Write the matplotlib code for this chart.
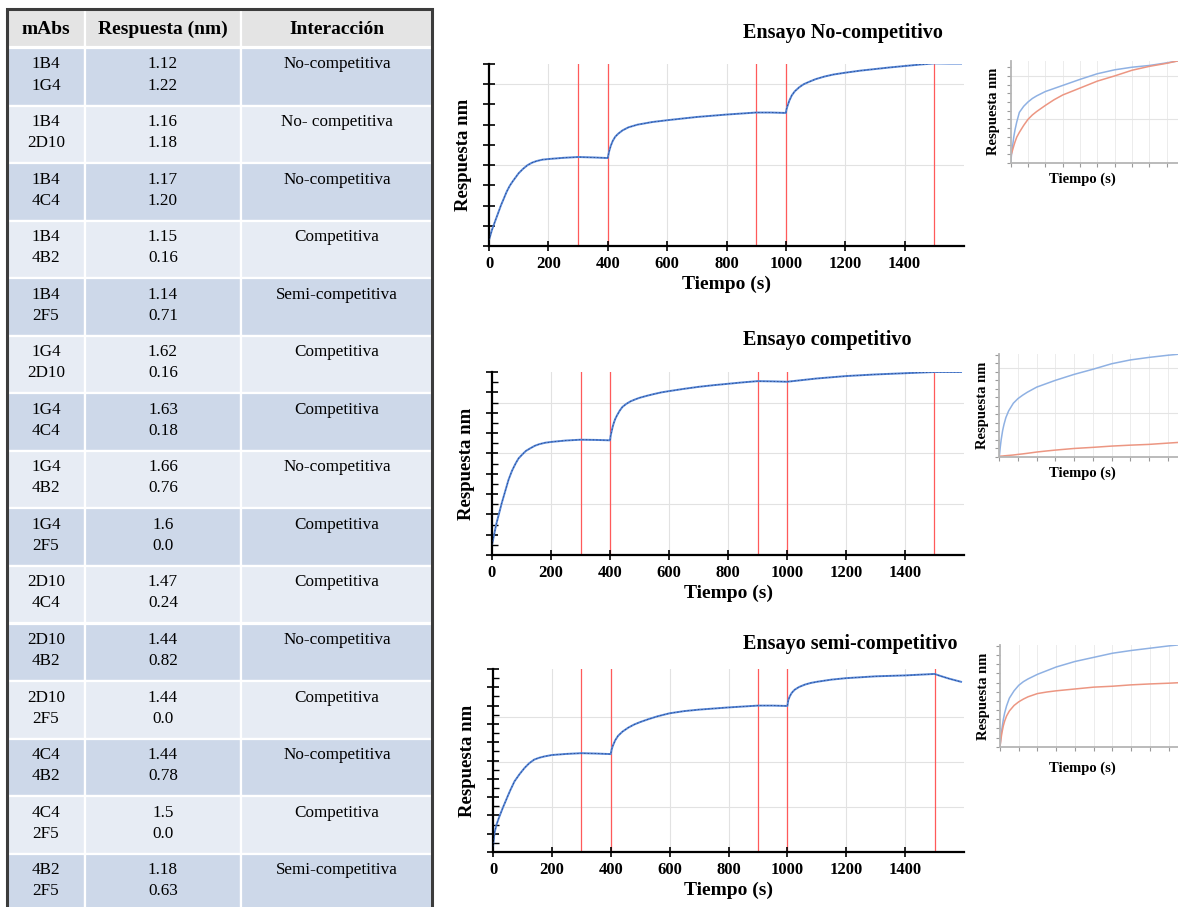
import matplotlib
matplotlib.use('Agg')
import matplotlib.pyplot as plt
from matplotlib.patches import Rectangle

plt.rcParams['font.family'] = ['Liberation Serif', 'DejaVu Serif']

# tabla de pares de anticuerpos
mabs_1 = ['1B4', '1B4', '1B4', '1B4', '1B4', '1G4', '1G4', '1G4', '1G4',
          '2D10', '2D10', '2D10', '4C4', '4C4', '4B2']
mabs_2 = ['1G4', '2D10', '4C4', '4B2', '2F5', '2D10', '4C4', '4B2', '2F5',
          '4C4', '4B2', '2F5', '4B2', '2F5', '2F5']
resp_1 = ['1.12', '1.16', '1.17', '1.15', '1.14', '1.62', '1.63', '1.66', '1.6',
          '1.47', '1.44', '1.44', '1.44', '1.5', '1.18']
resp_2 = ['1.22', '1.18', '1.20', '0.16', '0.71', '0.16', '0.18', '0.76', '0.0',
          '0.24', '0.82', '0.0', '0.78', '0.0', '0.63']
interaccion = ['No-competitiva', 'No- competitiva', 'No-competitiva', 'Competitiva',
               'Semi-competitiva', 'Competitiva', 'Competitiva', 'No-competitiva',
               'Competitiva', 'Competitiva', 'No-competitiva', 'Competitiva',
               'No-competitiva', 'Competitiva', 'Semi-competitiva']
encabezado = ['mAbs', 'Respuesta (nm)', 'Interacción']

# sensogramas (tiempo en s, respuesta en divisiones del eje)
t_nc = [0, 5, 10, 20, 30, 40, 50, 60, 70, 80, 90, 100, 115, 130, 145, 160, 180, 200,
        250, 300, 350, 400,
        402, 405, 410, 417, 425, 435, 450, 470, 500, 550, 600, 650, 700, 800, 900, 950, 1000,
        1002, 1006, 1012, 1020, 1030, 1045, 1060, 1080, 1100, 1130, 1160, 1200, 1250,
        1300, 1350, 1400, 1450, 1500, 1550, 1590]
y_nc = [0.3, 0.55, 0.8, 1.2, 1.6, 2.0, 2.35, 2.7, 2.98, 3.2, 3.4, 3.6, 3.82, 4.0, 4.12, 4.2, 4.27, 4.3,
        4.36, 4.4, 4.38, 4.35,
        4.5, 4.7, 4.95, 5.2, 5.4, 5.55, 5.72, 5.87, 6.0, 6.13, 6.22, 6.3, 6.38, 6.5, 6.6, 6.6, 6.58,
        6.75, 6.95, 7.2, 7.45, 7.65, 7.85, 8.0, 8.13, 8.25, 8.38, 8.48, 8.57, 8.67,
        8.75, 8.83, 8.9, 8.97, 9.03, 9.02, 9.02]

t_c = [0, 5, 10, 15, 25, 33, 45, 56, 68, 80, 90, 103, 115, 130, 145, 160, 180, 200,
       250, 300, 350, 400,
       402, 405, 409, 413, 418, 425, 433, 442, 455, 470, 485, 500, 525, 550, 575, 600,
       650, 700, 750, 800, 850, 900, 950, 1000,
       1050, 1100, 1200, 1300, 1400, 1500, 1590]
y_c = [0.5, 0.85, 1.2, 1.55, 2.1, 2.55, 3.15, 3.7, 4.15, 4.5, 4.75, 4.95, 5.12, 5.25, 5.37, 5.45, 5.52, 5.56,
       5.63, 5.67, 5.66, 5.64,
       5.85, 6.05, 6.3, 6.5, 6.7, 6.9, 7.1, 7.28, 7.43, 7.56, 7.65, 7.73, 7.83, 7.92, 8.0, 8.06,
       8.17, 8.27, 8.35, 8.42, 8.49, 8.55, 8.54, 8.52,
       8.6, 8.68, 8.8, 8.88, 8.94, 9.0, 9.0]

t_sc = [0, 5, 12, 22, 33, 45, 58, 73, 90, 107, 123, 140, 157, 174, 200,
        250, 300, 350, 400,
        403, 407, 415, 425, 440, 460, 480, 500, 530, 560, 600, 650, 700, 800, 900, 950, 1000,
        1003, 1008, 1015, 1025, 1040, 1060, 1080, 1100, 1150, 1200, 1300, 1400, 1500,
        1520, 1550, 1590]
y_sc = [0.3, 1.04, 1.5, 1.95, 2.4, 2.86, 3.35, 3.86, 4.25, 4.59, 4.85, 5.05, 5.15, 5.22, 5.3,
        5.36, 5.4, 5.38, 5.35,
        5.6, 5.8, 6.1, 6.35, 6.58, 6.8, 6.97, 7.1, 7.27, 7.42, 7.58, 7.7, 7.78, 7.9, 8.0, 8.0, 7.98,
        8.3, 8.5, 8.7, 8.87, 9.02, 9.15, 9.24, 9.3, 9.42, 9.5, 9.6, 9.65, 9.73,
        9.62, 9.47, 9.3]

marcas = [300, 400, 900, 1000, 1500]
x_ticks = [0, 200, 400, 600, 800, 1000, 1200, 1400]

# recuadros de asociación (azul = primer mAb, rojo = segundo mAb)
xi = [0, 0.05, 0.1, 0.18, 0.25, 0.35, 0.5, 0.75, 1, 1.25, 1.5, 2, 2.5, 3, 4, 5, 6, 7, 8, 9, 9.7]
azul_nc = [0, 1.0, 1.8, 3.0, 3.8, 4.7, 5.8, 6.5, 7.0, 7.4, 7.7, 8.2, 8.55, 8.9, 9.6,
           10.25, 10.7, 11.0, 11.2, 11.5, 11.75]
rojo_nc = [0.7, 1.05, 1.4, 1.95, 2.4, 2.95, 3.5, 4.3, 5.0, 5.5, 5.9, 6.6, 7.25, 7.8, 8.6,
           9.4, 10.0, 10.65, 11.1, 11.45, 11.75]
azul_c = [0, 1.1, 2.0, 3.1, 3.8, 4.6, 5.4, 6.3, 6.85, 7.25, 7.6, 8.2, 8.6, 9.0, 9.7,
          10.3, 10.95, 11.4, 11.7, 11.95, 12.1]
rojo_c = [0.05, 0.06, 0.07, 0.08, 0.1, 0.12, 0.15, 0.2, 0.27, 0.33, 0.4, 0.55, 0.67, 0.78, 0.97,
          1.1, 1.25, 1.36, 1.45, 1.6, 1.7]
azul_sc = [0, 1.0, 1.9, 3.0, 3.7, 4.45, 5.3, 6.1, 6.7, 7.1, 7.4, 7.9, 8.3, 8.7, 9.3,
           9.75, 10.2, 10.5, 10.75, 11.0, 11.15]
rojo_sc = [0, 0.8, 1.5, 2.3, 2.8, 3.35, 3.9, 4.5, 4.9, 5.2, 5.45, 5.8, 5.97, 6.1, 6.3,
           6.5, 6.6, 6.75, 6.85, 6.93, 7.0]

W, H = 1178, 907
fig = plt.figure(figsize=(W / 100, H / 100), dpi=100)


def box(l, t, r, b):
    return [l / W, 1 - b / H, (r - l) / W, (b - t) / H]


# ---- tabla ----
tab = fig.add_axes(box(0, 0, 440, 907))
tab.set_xlim(0, 440)
tab.set_ylim(907, 0)
tab.axis('off')

cols = [7, 85, 241, 432]
centros = [46, 163, 337]
top_h, bot_h = 9, 47
alto = 57.55

for j in range(3):
    tab.add_patch(Rectangle((cols[j], top_h), cols[j + 1] - cols[j], bot_h - top_h,
                            fc='#e4e4e4', ec='white', lw=1.6))
    tab.text(centros[j], 29, encabezado[j], ha='center', va='center',
             fontsize=14, fontweight='bold')

for i in range(len(mabs_1)):
    y0 = 48 + i * alto
    fc = '#cdd8e9' if i % 2 == 0 else '#e7ecf4'
    for j in range(3):
        tab.add_patch(Rectangle((cols[j], y0), cols[j + 1] - cols[j], alto,
                                fc=fc, ec='white', lw=1.6))
    tab.text(centros[0], y0 + 16.5, mabs_1[i], ha='center', va='center', fontsize=12.3)
    tab.text(centros[0], y0 + 37.5, mabs_2[i], ha='center', va='center', fontsize=12.3)
    tab.text(centros[1], y0 + 16.5, resp_1[i], ha='center', va='center', fontsize=12.3)
    tab.text(centros[1], y0 + 37.5, resp_2[i], ha='center', va='center', fontsize=12.3)
    tab.text(centros[2], y0 + 16.5, interaccion[i], ha='center', va='center', fontsize=12.3)

tab.plot([cols[0], cols[0], cols[-1], cols[-1]], [907, top_h, top_h, 907],
         color='#3c3c3c', lw=2.2, solid_joinstyle='miter', clip_on=False)


# ---- sensogramas ----
def sensograma(rect, t, y, ymax, grid_y, minor, titulo, y_titulo):
    ax = fig.add_axes(box(*rect))
    ax.set_xlim(0, 1600)
    ax.set_ylim(0, ymax)
    for g in x_ticks[1:]:
        ax.axvline(g, color='#e2e2e2', lw=0.8, zorder=0)
    for g in grid_y:
        ax.axhline(g, color='#e2e2e2', lw=0.8, zorder=0)
    for m in marcas:
        ax.axvline(m, color='#ff5a5a', lw=0.9, zorder=1)
    ax.plot(t, y, color='#5585d6', lw=1.4, zorder=2)
    ax.plot(t, y, color='#23407e', lw=0.5, dashes=(2, 3), zorder=3)
    for s in ['top', 'right']:
        ax.spines[s].set_visible(False)
    for s in ['left', 'bottom']:
        ax.spines[s].set_linewidth(1.6)
    ax.set_xticks(x_ticks)
    ax.set_xticklabels([str(v) for v in x_ticks], fontsize=12, fontweight='bold')
    ax.set_yticks(range(int(ymax) + 1))
    ax.set_yticklabels([])
    if minor:
        ax.set_yticks([k + 0.5 for k in range(int(ymax))], minor=True)
        ax.tick_params(axis='y', which='minor', direction='in', length=4, width=1)
    ax.tick_params(axis='y', which='major', direction='inout', length=8, width=1.2)
    ax.tick_params(axis='x', direction='inout', length=7, width=1.2, pad=4)
    ax.set_xlabel('Tiempo (s)', fontsize=14, fontweight='bold', labelpad=2)
    ax.set_ylabel('Respuesta nm', fontsize=13.5, fontweight='bold', labelpad=5)
    fig.text(743 / W, 1 - y_titulo / H, titulo, ha='left', va='center',
             fontsize=14.5, fontweight='bold')
    return ax


sensograma((489, 64, 964, 246), t_nc, y_nc, 9, [4, 8], False,
           'Ensayo No-competitivo', 33)
sensograma((492, 372, 964, 555), t_c, y_c, 9, [2.5, 5, 7.5], True,
           'Ensayo competitivo', 340)
sensograma((493, 669, 964, 852), t_sc, y_sc, 10, [2.45, 4.9, 7.35], True,
           'Ensayo semi-competitivo', 644)


# ---- recuadros de asociación ----
def recuadro(rect, xmax, ymax, grid_y, azul, rojo, y_tiempo):
    ax = fig.add_axes(box(*rect))
    ax.set_xlim(0, xmax)
    ax.set_ylim(0, ymax)
    for g in range(1, int(xmax) + 1):
        ax.axvline(g, color='#ececec', lw=0.7, zorder=0)
    for g in grid_y:
        ax.axhline(g, color='#e4e4e4', lw=0.8, zorder=0)
    ax.plot(xi, azul, color='#8fb1e3', lw=1.1)
    ax.plot(xi, rojo, color='#ec9682', lw=1.1)
    for s in ['top', 'right']:
        ax.spines[s].set_visible(False)
    for s in ['left', 'bottom']:
        ax.spines[s].set_color('#b5b5b5')
        ax.spines[s].set_linewidth(1.3)
    ax.set_xticks(range(int(xmax) + 1))
    ax.set_yticks(range(int(ymax) + 1))
    ax.set_xticklabels([])
    ax.set_yticklabels([])
    ax.tick_params(color='#9a9a9a', length=3, width=0.8)
    ax.set_ylabel('Respuesta nm', fontsize=10.5, fontweight='bold', labelpad=1)
    fig.text(1082 / W, 1 - y_tiempo / H, 'Tiempo (s)', ha='center', va='center',
             fontsize=10.5, fontweight='bold')


recuadro((1010.7, 60.7, 1178, 162.7), 9.65, 11.75, [5, 10], azul_nc, rojo_nc, 179)
recuadro((999.3, 354, 1178, 456.7), 9.55, 12.1, [5.2, 10.4], azul_c, rojo_c, 473)
recuadro((1000, 645, 1178, 746.7), 9.5, 11.1, [], azul_sc, rojo_sc, 768)

fig.savefig('out.png', dpi=100)
